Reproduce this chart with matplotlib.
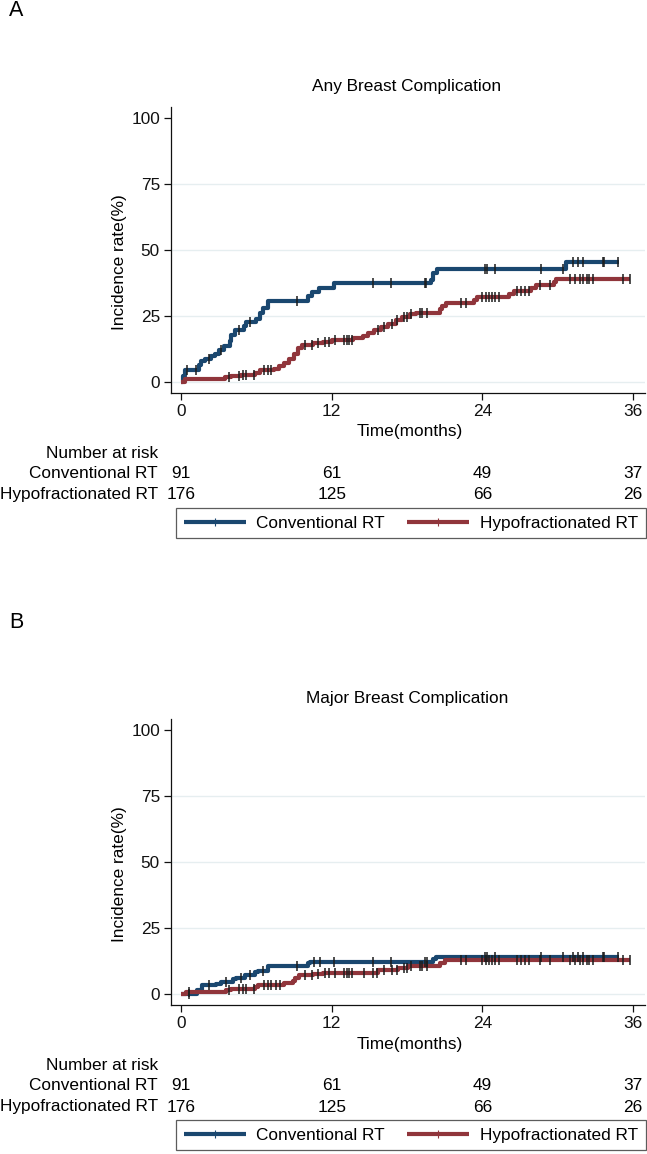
import numpy as np
import matplotlib
matplotlib.use("Agg")
import matplotlib.pyplot as plt
from matplotlib.lines import Line2D
from matplotlib.transforms import blended_transform_factory

plt.rcParams["font.family"] = ["Liberation Sans", "DejaVu Sans"]

W, H = 647, 1154
BLUE = "#1a476f"
RED = "#90353b"
GRID = "#e6eef0"
FS = 12.4

groups = ["Conventional RT", "Hypofractionated RT"]
risk_times = [0, 12, 24, 36]
risk_conv = [91, 61, 49, 37]
risk_hypo = [176, 125, 66, 26]

# panel A: any breast complication (step times in months, cumulative incidence %)
a_conv_t = [0, 0.13, 0.3, 1.4, 1.6, 1.9, 2.4, 2.7, 3.0, 3.4, 3.9, 4.0, 4.3, 5.0, 5.2,
            6.0, 6.3, 6.5, 6.9, 10.1, 10.4, 11.0, 12.2, 19.9, 20.1, 20.4, 30.7, 34.9]
a_conv_y = [0, 2.1, 4.7, 6.6, 7.8, 8.7, 9.7, 10.7, 12.2, 13.5, 15.4, 17.9, 19.5, 21.3, 22.6,
            23.8, 26.1, 28.0, 30.8, 32.4, 33.9, 35.6, 37.5, 38.7, 41.2, 42.9, 45.3, 45.3]
a_conv_cens = [0.5, 1.2, 2.2, 3.2, 4.6, 5.5, 9.2, 15.3, 16.7, 19.4, 19.5, 24.2, 24.4, 25.0,
               28.7, 30.4, 31.2, 31.6, 32.0, 33.6, 33.7, 34.8]

a_hypo_t = [0, 0.3, 3.5, 4.0, 4.8, 5.9, 6.3, 7.4, 7.8, 8.2, 8.6, 9.0, 9.3, 9.6, 10.5, 11.3,
            12.0, 13.7, 14.5, 14.9, 15.4, 15.9, 16.5, 17.1, 17.6, 18.2, 18.7, 20.6, 20.8, 21.1,
            23.3, 23.6, 26.1, 26.5, 27.9, 28.3, 29.7, 29.9, 35.8]
a_hypo_y = [0, 1.0, 1.8, 2.3, 2.8, 3.5, 4.4, 5.0, 6.1, 7.3, 8.6, 10.6, 12.9, 14.1, 14.7, 15.3,
            16.0, 16.5, 17.4, 18.5, 19.7, 20.8, 22.1, 23.3, 24.5, 25.6, 26.2, 27.5, 28.7, 29.9,
            31.0, 32.0, 33.2, 34.4, 35.5, 36.8, 37.8, 39.1, 39.1]
a_hypo_cens = [3.8, 4.6, 4.9, 5.2, 5.8, 6.6, 6.9, 7.2, 9.9, 10.4, 10.9, 11.5, 11.8, 12.3, 13.0,
               13.2, 13.4, 13.6, 15.7, 16.2, 16.8, 17.2, 17.8, 18.0, 18.3, 19.0, 19.2, 19.6,
               22.3, 22.7, 24.0, 24.3, 24.5, 24.8, 25.0, 25.3, 26.8, 27.1, 27.4, 27.7, 28.6,
               29.4, 31.0, 31.4, 31.8, 32.0, 32.3, 32.5, 32.8, 35.2, 35.8]

# panel B: major breast complication
b_conv_t = [0, 1.3, 1.7, 2.8, 3.2, 4.1, 4.4, 5.1, 5.9, 6.1, 6.9, 10.1, 10.3, 20.1, 20.3, 34.9]
b_conv_y = [0, 1.4, 3.2, 3.8, 4.4, 5.7, 6.2, 7.2, 8.3, 8.8, 10.4, 11.6, 12.0, 13.3, 14.0, 14.0]
b_conv_cens = [0.6, 2.2, 3.6, 4.8, 5.5, 6.5, 9.2, 10.6, 11.1, 12.2, 15.3, 16.7, 19.4, 19.6,
               24.2, 24.4, 25.0, 28.7, 30.4, 31.2, 31.6, 32.0, 33.6, 33.7, 34.8]

b_hypo_t = [0, 0.4, 3.6, 4.0, 5.9, 6.1, 6.5, 8.2, 8.9, 9.1, 9.4, 10.5, 11.3, 15.7, 17.3, 18.1,
            20.6, 21.0, 35.8]
b_hypo_y = [0, 0.6, 1.5, 2.0, 2.5, 3.2, 3.4, 4.0, 5.0, 6.1, 7.1, 7.6, 8.1, 9.1, 10.0, 10.4,
            11.6, 12.9, 12.9]
b_hypo_cens = [0.6, 3.8, 4.6, 4.9, 5.2, 5.8, 6.6, 6.9, 7.2, 7.6, 7.9, 9.9, 10.4, 10.9, 11.5,
               11.8, 12.3, 13.0, 13.2, 13.4, 13.6, 14.6, 15.3, 15.6, 16.2, 16.8, 17.2, 17.8,
               18.0, 18.3, 19.0, 19.2, 19.6, 22.3, 22.7, 24.0, 24.3, 24.5, 24.8, 25.0, 25.3,
               26.8, 27.1, 27.4, 27.7, 28.6, 29.4, 31.0, 31.4, 31.8, 32.0, 32.3, 32.5, 32.8,
               35.2, 35.8]

panels = [
    ("A", "Any Breast Complication", (a_conv_t, a_conv_y, a_conv_cens), (a_hypo_t, a_hypo_y, a_hypo_cens)),
    ("B", "Major Breast Complication", (b_conv_t, b_conv_y, b_conv_cens), (b_hypo_t, b_hypo_y, b_hypo_cens)),
]


def fx(px):
    return px / W


def fy(py):
    return 1 - py / H


def draw_curve(ax, t, y, cens, color):
    ax.step(t, y, where="post", color=color, lw=3.0, solid_capstyle="butt", zorder=3)
    t = np.asarray(t)
    y = np.asarray(y)
    idx = np.searchsorted(t, cens, side="right") - 1
    ax.plot(cens, y[idx], ls="none", marker="|", ms=6.5, mew=1.1, color="#1c1c1c", zorder=4)


fig = plt.figure(figsize=(W / 100, H / 100), dpi=100)

for i, (letter, title, conv, hypo) in enumerate(panels):
    off = 612 * i
    ax = fig.add_axes([fx(171), fy(393 + off), fx(645 - 171), (393 - 107) / H])
    ax.set_xlim(-0.8, 36.96)
    ax.set_ylim(-4.2, 104.2)
    for yv in [0, 25, 50, 75]:
        ax.axhline(yv, color=GRID, lw=1.0, zorder=1)
    draw_curve(ax, *conv, BLUE)
    draw_curve(ax, *hypo, RED)

    ax.set_xticks(risk_times)
    ax.set_yticks([0, 25, 50, 75, 100])
    ax.tick_params(labelsize=FS, length=5, width=0.9, colors="#111111", pad=3)
    ax.set_yticklabels(["0", "25", "50", "75", "100"])
    for s in ["top", "right"]:
        ax.spines[s].set_visible(False)
    for s in ["left", "bottom"]:
        ax.spines[s].set_linewidth(0.9)
        ax.spines[s].set_color("#111111")

    fig.text(fx(9), fy(11 + off), letter, fontsize=15.5, ha="left", va="center")
    fig.text(fx(407), fy(87 + off), title, fontsize=FS, ha="center", va="center")
    fig.text(fx(119), fy(262 + off), "Incidence rate(%)", fontsize=FS, rotation=90,
             ha="center", va="center")
    fig.text(fx(410), fy(432 + off), "Time(months)", fontsize=FS, ha="center", va="center")

    # risk table
    tr = blended_transform_factory(ax.transData, fig.transFigure)
    fig.text(fx(158), fy(454 + off), "Number at risk", fontsize=FS, ha="right", va="center")
    for row, (name, counts) in enumerate(zip(groups, [risk_conv, risk_hypo])):
        yrow = fy(474 + 21 * row + off)
        fig.text(fx(158), yrow, name, fontsize=FS, ha="right", va="center")
        for tm, n in zip(risk_times, counts):
            ax.text(tm, yrow, str(n), transform=tr, fontsize=FS, ha="center", va="center",
                    clip_on=False)

    handles = [Line2D([0, 0.5, 1], [0, 0, 0], color=c, lw=3.0, marker="|", ms=6, mew=0.8,
                      markevery=[1], solid_capstyle="butt")
               for c in [BLUE, RED]]
    leg = fig.legend(handles, groups, loc="center", bbox_to_anchor=(fx(411), fy(523 + off)),
                     ncol=2, fontsize=FS, frameon=True, fancybox=False, handlelength=3.6,
                     handletextpad=0.6, columnspacing=1.3, borderpad=0.45,
                     borderaxespad=0)
    leg.get_frame().set_edgecolor("#333333")
    leg.get_frame().set_linewidth(0.9)

fig.savefig("out.png", dpi=100)
